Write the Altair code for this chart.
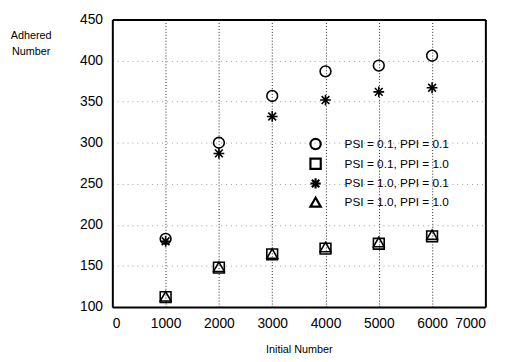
import altair as alt
import pandas as pd

initial = [1000, 2000, 3000, 4000, 5000, 6000]
series_names = ["PSI = 0.1, PPI = 0.1", "PSI = 0.1, PPI = 1.0",
                "PSI = 1.0, PPI = 0.1", "PSI = 1.0, PPI = 1.0"]
circ = [183, 300, 357, 387, 394, 406]
sq = [112, 148, 164, 171, 177, 186]
star = [180, 287, 332, 352, 362, 367]
tri = [113, 149, 165, 173, 179, 188]
x_ticks = [0, 1000, 2000, 3000, 4000, 5000, 6000, 7000]
y_ticks = [100, 150, 200, 250, 300, 350, 400, 450]

rows = []
for name, vals in zip(series_names, [circ, sq, star, tri]):
    for xv, yv in zip(initial, vals):
        rows.append({"x": xv, "y": yv, "series": name})
df = pd.DataFrame(rows)

asterisk = "M-1,0L1,0M0,-1L0,1M-0.72,-0.72L0.72,0.72M-0.72,0.72L0.72,-0.72"
shapes = ["circle", "square", asterisk, "triangle-up"]

font = "Liberation Sans"
xscale = alt.Scale(domain=[0, 7000], nice=False)
yscale = alt.Scale(domain=[100, 450], nice=False, zero=False)

points = alt.Chart(df).mark_point(filled=False, color="black", opacity=1, strokeWidth=1.6, size=120).encode(
    x=alt.X("x:Q", scale=xscale,
            axis=alt.Axis(values=x_ticks, format="d", title="Initial Number",
                          titleFontSize=11, titleFontWeight="normal", titlePadding=13,
                          labelFontSize=14, labelPadding=10, ticks=False,
                          domain=True, domainColor="black", domainWidth=2,
                          grid=True, gridDash=[1, 2], gridColor="#222", gridWidth=1)),
    y=alt.Y("y:Q", scale=yscale,
            axis=alt.Axis(values=y_ticks, title=["Adhered", "Number"], titleAngle=0,
                          titleAlign="center", titleBaseline="top", titleX=-83, titleY=10,
                          titleFontSize=11, titleFontWeight="normal", titleLineHeight=17,
                          labelFontSize=14, labelPadding=10, ticks=False,
                          domain=True, domainColor="black", domainWidth=2,
                          grid=True, gridDash=[1, 4], gridColor="#999", gridWidth=1)),
    shape=alt.Shape("series:N", scale=alt.Scale(domain=series_names, range=shapes),
                    legend=alt.Legend(title=None, orient="none", legendX=200, legendY=120,
                                      labelFontSize=12, labelFont=font, labelColor="black",
                                      labelOffset=23,
                                      symbolSize=110, symbolStrokeWidth=2.2,
                                      symbolStrokeColor="black", symbolFillColor="transparent",
                                      symbolOpacity=1, rowPadding=-1)),
)

frame = alt.Chart(df).mark_point(opacity=0).encode(
    x=alt.X("x:Q", scale=xscale,
            axis=alt.Axis(orient="top", labels=False, ticks=False, grid=False, title=None,
                          domain=True, domainColor="black", domainWidth=2)),
    y=alt.Y("y:Q", scale=yscale,
            axis=alt.Axis(orient="right", labels=False, ticks=False, grid=False, title=None,
                          domain=True, domainColor="black", domainWidth=2)),
)

chart = alt.layer(points, frame).resolve_axis(x="independent", y="independent").properties(
    width=379, height=292,
    background="white",
    autosize=alt.AutoSizeParams(type="none"),
    padding={"left": 106, "top": 9, "right": 24, "bottom": 45},
).configure_view(
    stroke=None
).configure_axis(
    labelFont=font, titleFont=font, labelColor="black", titleColor="black"
)

chart.save("out.html", embed_options={"renderer": "svg", "actions": False})
